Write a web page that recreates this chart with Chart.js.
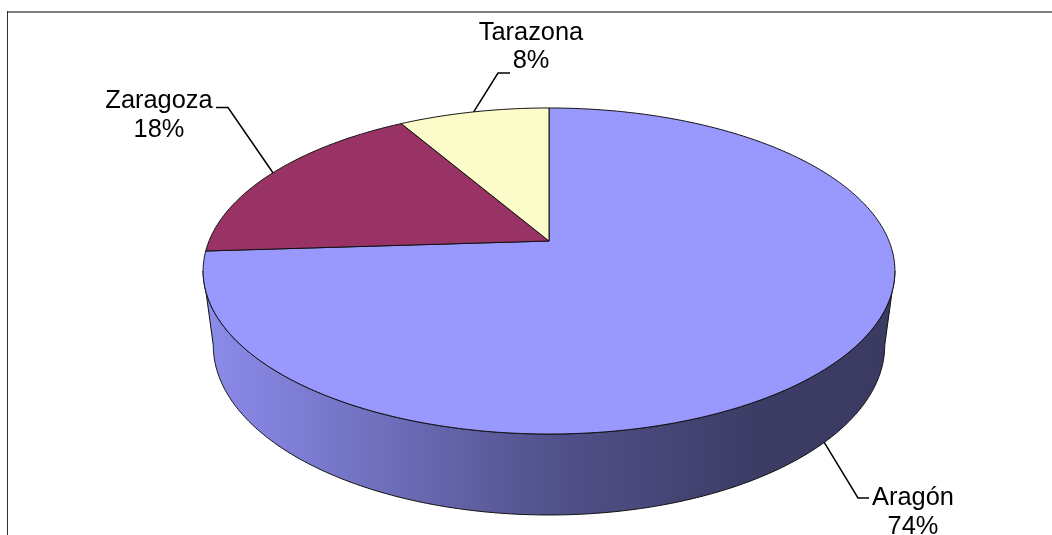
<!DOCTYPE html>
<html>
<head>
<meta charset="utf-8">
<style>
html,body{margin:0;padding:0;background:#fff;overflow:hidden}
#wrap{position:relative;width:1052px;height:535px}
</style>
<script src="https://cdn.jsdelivr.net/npm/chart.js@4"></script>
</head>
<body>
<div id="wrap"><canvas id="c" width="1052" height="535"></canvas></div>
<script>
const categories = ['Aragón', 'Zaragoza', 'Tarazona'];
const values = [74, 17.6, 8.4];
const colors = ['#9898FD', '#993366', '#FCFBCA'];

// Perspective model of the tilted disc (top face and bottom face of the 3D pie)
const K = -0.184;
const topFace = {cx: 549, cy: 241, A: 340, B: 157.5};
const botFace = {cx: 549, cy: 314, A: 330, B: 164};
const project = (f, a) => {
  const u = Math.cos(a), v = Math.sin(a), d = 1 + K * v;
  return [f.cx + f.A * u / d, f.cy + f.B * v / d];
};
const WIDE = Math.asin(-K);

// Label layout: text centre x, first baseline, leader elbow, leader stub end, face for the anchor
const labelLayout = [
  {x: 913, y: 505, elbow: [858, 498], stub: [869, 498], face: botFace},
  {x: 159, y: 108, elbow: [228, 107.5], stub: [216, 107.5], face: topFace},
  {x: 531, y: 39.5, elbow: [498, 73], stub: [510, 73], face: topFace}
];

function tracePath(ctx, f, a0, a1) {
  const n = Math.max(2, Math.ceil(Math.abs(a1 - a0) / 0.01));
  for (let i = 0; i <= n; i++) {
    const p = project(f, a0 + (a1 - a0) * i / n);
    ctx.lineTo(p[0], p[1]);
  }
}

const pie3d = {
  id: 'pie3d',
  beforeDraw(chart) {
    const ctx = chart.ctx;
    ctx.save();
    ctx.fillStyle = '#fff';
    ctx.fillRect(0, 0, 1052, 535);
    ctx.fillStyle = '#808080';
    ctx.fillRect(8, 11, 1044, 2);
    ctx.fillStyle = '#303030';
    ctx.fillRect(7, 11, 1, 524);
    ctx.restore();
  },
  beforeDatasetDraw(chart, args) {
    const ctx = chart.ctx;
    const arcs = chart.getDatasetMeta(args.index).data;
    ctx.save();
    // Side wall
    const g = ctx.createLinearGradient(203, 0, 895, 0);
    g.addColorStop(0, '#8C8CEA');
    g.addColorStop(0.12, '#7F7FD8');
    g.addColorStop(0.5, '#52528C');
    g.addColorStop(0.8, '#3C3C66');
    g.addColorStop(1, '#3A3A62');
    ctx.beginPath();
    tracePath(ctx, botFace, WIDE, Math.PI - WIDE);
    tracePath(ctx, topFace, Math.PI - WIDE, WIDE);
    ctx.closePath();
    ctx.fillStyle = g;
    ctx.fill();
    ctx.strokeStyle = '#111';
    ctx.lineWidth = 1;
    ctx.stroke();
    // Top face slices, from the angles the pie controller computed
    arcs.forEach((arc, i) => {
      ctx.beginPath();
      ctx.moveTo(topFace.cx, topFace.cy);
      tracePath(ctx, topFace, arc.startAngle, arc.endAngle);
      ctx.closePath();
      ctx.fillStyle = colors[i];
      ctx.fill();
      ctx.strokeStyle = '#111';
      ctx.lineWidth = 1;
      ctx.stroke();
    });
    ctx.restore();
    return false;
  },
  afterDatasetsDraw(chart) {
    const ctx = chart.ctx;
    const arcs = chart.getDatasetMeta(0).data;
    ctx.save();
    arcs.forEach((arc, i) => {
      const L = labelLayout[i];
      const p = project(L.face, (arc.startAngle + arc.endAngle) / 2);
      ctx.strokeStyle = '#000';
      ctx.lineWidth = 1.5;
      ctx.beginPath();
      ctx.moveTo(p[0], p[1]);
      ctx.lineTo(L.elbow[0], L.elbow[1]);
      ctx.lineTo(L.stub[0], L.stub[1]);
      ctx.stroke();
      ctx.fillStyle = '#000';
      ctx.font = '25.4px "Liberation Sans", Arial, sans-serif';
      ctx.textAlign = 'center';
      ctx.textBaseline = 'alphabetic';
      ctx.fillText(categories[i], L.x, L.y);
      ctx.fillText(Math.round(values[i]) + '%', L.x, L.y + 28.5);
    });
    ctx.restore();
  }
};

new Chart(document.getElementById('c'), {
  type: 'pie',
  data: {
    labels: categories,
    datasets: [{data: values, backgroundColor: colors, borderColor: '#111', borderWidth: 1}]
  },
  options: {
    responsive: false,
    animation: false,
    events: [],
    plugins: {legend: {display: false}, tooltip: {enabled: false}}
  },
  plugins: [pie3d]
});
</script>
</body>
</html>
